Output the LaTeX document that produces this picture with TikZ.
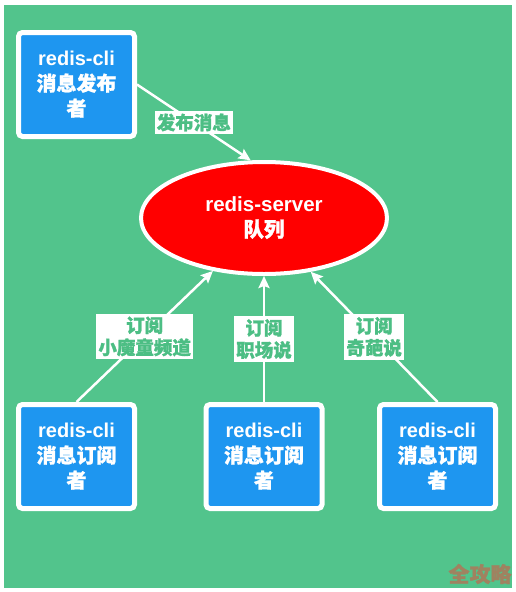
\documentclass[tikz,border=0pt]{standalone}
\usepackage{fontspec}
\setmainfont{Liberation Sans}
\newfontfamily\cjk{Noto Sans CJK SC}[BoldFeatures={FakeBold=1.2}]
\usetikzlibrary{shapes.geometric,arrows.meta}
\definecolor{bg}{RGB}{82,196,140}
\definecolor{bluebox}{RGB}{30,150,240}
\definecolor{lbl}{RGB}{76,190,132}
\definecolor{wmark}{RGB}{160,130,96}
\begin{document}
\begin{tikzpicture}[x=1pt,y=-1pt,
 client/.style={draw=white, line width=5pt, fill=bluebox, rounded corners=4pt,
   minimum width=116pt, minimum height=104pt, inner sep=0pt, text=white,
   align=center, font=\bfseries\fontsize{20}{25}\selectfont},
 server/.style={ellipse, draw=white, line width=4pt, fill=red,
   minimum width=246pt, minimum height=112pt, inner sep=0pt, text=white,
   align=center, font=\bfseries\fontsize{20.5}{25}\selectfont},
 link/.style={draw=white, line width=2.5pt, -{Stealth[length=12pt,width=11pt,inset=2pt]}},
 tag/.style={fill=white, text=lbl, inner xsep=2pt, inner ysep=3pt, align=center,
   font=\cjk\bfseries\fontsize{18.5}{22}\selectfont},
 wmstyle/.style={font=\cjk\bfseries\fontsize{21}{21}\selectfont}]
\useasboundingbox (0,0) rectangle (516,592);
\fill[white] (0,0) rectangle (516,592);
\fill[bg] (4,5) rectangle (512,588);
\node[client] (pub) at (76.5,84.5) {redis-cli\\{\cjk 消息发布}\\{\cjk 者}};
\node[server] (srv) at (264,218) {redis-server\\{\cjk 队列}};
\node[client] (subA) at (76.5,456.5) {redis-cli\\{\cjk 消息订阅}\\{\cjk 者}};
\node[client] (subB) at (264,456.5) {redis-cli\\{\cjk 消息订阅}\\{\cjk 者}};
\node[client] (subC) at (437.5,456.5) {redis-cli\\{\cjk 消息订阅}\\{\cjk 者}};
\draw[link] (pub.east) -- node[tag] (t0) {发布消息} (srv.103);
\draw[link] (subA.north) -- node[tag] (t1) {订阅\\小魔童频道} (srv.226);
\draw[link] (subB.north) -- node[tag] (t2) {订阅\\职场说} (srv.south);
\draw[link] (subC.north) -- node[tag] (t3) {订阅\\奇葩说} (srv.311);
\node[wmstyle, text=wmark] (wm) at (480,574) {全攻略};
\end{tikzpicture}
\end{document}
